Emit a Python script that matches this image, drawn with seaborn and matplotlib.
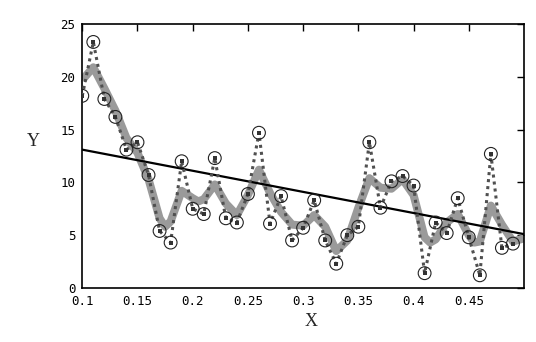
import numpy as np
import pandas as pd
import matplotlib
matplotlib.use("Agg")
import matplotlib.pyplot as plt
import seaborn as sns

# observed points
x_obs = [0.10, 0.11, 0.12, 0.13, 0.14, 0.15, 0.16, 0.17, 0.18, 0.19,
         0.20, 0.21, 0.22, 0.23, 0.24, 0.25, 0.26, 0.27, 0.28, 0.29,
         0.30, 0.31, 0.32, 0.33, 0.34, 0.35, 0.36, 0.37, 0.38, 0.39,
         0.40, 0.41, 0.42, 0.43, 0.44, 0.45, 0.46, 0.47, 0.48, 0.49]
y_obs = [18.2, 23.3, 17.9, 16.2, 13.1, 13.8, 10.7, 5.4, 4.3, 12.0,
         7.5, 7.0, 12.3, 6.6, 6.2, 8.9, 14.7, 6.1, 8.7, 4.5,
         5.7, 8.3, 4.5, 2.3, 5.0, 5.8, 13.8, 7.6, 10.1, 10.6,
         9.7, 1.4, 6.2, 5.2, 8.5, 4.8, 1.2, 12.7, 3.8, 4.2]

# smooth (gray) curve
x_smooth = [0.10, 0.11, 0.12, 0.13, 0.14, 0.15, 0.16, 0.17, 0.175, 0.18, 0.19,
            0.20, 0.205, 0.21, 0.22, 0.23, 0.24, 0.25, 0.26, 0.27, 0.28, 0.29,
            0.30, 0.31, 0.32, 0.33, 0.34, 0.35, 0.36, 0.37, 0.38, 0.39,
            0.40, 0.41, 0.415, 0.42, 0.43, 0.44, 0.45, 0.455, 0.46, 0.47, 0.48, 0.49, 0.50]
y_smooth = [19.7, 20.9, 18.9, 16.8, 14.2, 12.8, 10.3, 6.6, 5.8, 6.3, 9.2,
            8.5, 8.2, 8.4, 9.8, 8.0, 6.9, 8.8, 11.2, 9.0, 7.2, 6.0,
            5.9, 6.9, 5.8, 3.5, 4.5, 7.6, 10.4, 9.5, 9.4, 10.3,
            8.8, 4.8, 4.3, 4.6, 6.2, 7.0, 5.0, 4.3, 4.4, 7.8, 6.0, 4.4, 4.7]

# linear fit line
x_fit = [0.10, 0.50]
y_fit = [13.1, 5.1]

x_ticks = [0.1, 0.15, 0.2, 0.25, 0.3, 0.35, 0.4, 0.45]
x_ticklabels = ["0.1", "0.15", "0.2", "0.25", "0.3", "0.35", "0.4", "0.45"]
y_ticks = [0, 5, 10, 15, 20, 25]

sns.set_style("white")
plt.rcParams['font.family'] = ['DejaVu Sans Mono']

fig = plt.figure(figsize=(5.36, 3.42), dpi=100)
ax = fig.add_axes([0.1535, 0.158, 0.8241, 0.7718])

obs = pd.DataFrame({"x": x_obs, "y": y_obs})
smooth = pd.DataFrame({"x": x_smooth, "y": y_smooth})
fit = pd.DataFrame({"x": x_fit, "y": y_fit})

sns.lineplot(data=smooth, x="x", y="y", ax=ax, color="#9a9a9a", linewidth=5.8,
             solid_joinstyle="round", solid_capstyle="butt", zorder=2)
sns.lineplot(data=fit, x="x", y="y", ax=ax, color="black", linewidth=1.6, zorder=3)
sns.lineplot(data=obs, x="x", y="y", ax=ax, color="#505050", linewidth=2.2,
             linestyle=(0, (1, 1.3)), zorder=4)
sns.scatterplot(data=obs, x="x", y="y", ax=ax, s=85, facecolor="none",
                edgecolor="#222222", linewidth=0.8, zorder=5)
sns.scatterplot(data=obs, x="x", y="y", ax=ax, s=6, marker="s", color="#333333",
                linewidth=0, zorder=6)

ax.set_xlim(0.1, 0.5)
ax.set_ylim(0, 25)
ax.set_xticks(x_ticks)
ax.set_xticklabels(x_ticklabels)
ax.set_yticks(y_ticks)
ax.tick_params(direction="in", length=5, width=1, top=True, right=True,
               labelsize=9, colors="black")
ax.tick_params(axis="x", pad=5)
ax.tick_params(axis="y", pad=5)
for s in ax.spines.values():
    s.set_color("black")
    s.set_linewidth(1.2)

ax.set_xlabel("X", family="Liberation Serif", fontsize=13)
ax.xaxis.set_label_coords(0.517, -0.095)
ax.set_ylabel("Y", family="Liberation Serif", fontsize=13, rotation=0,
              va="center", ha="center")
ax.yaxis.set_label_coords(-0.111, 0.553)

fig.savefig("out.png", dpi=100)
